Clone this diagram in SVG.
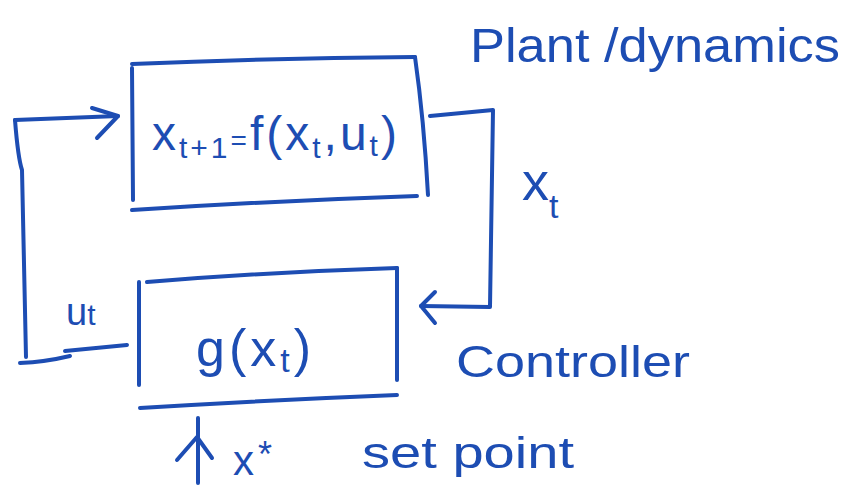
<svg xmlns="http://www.w3.org/2000/svg" width="845" height="487" viewBox="0 0 845 487">
<style>
.s{fill:none;stroke:#1d4db3;stroke-width:4;stroke-linecap:round;stroke-linejoin:round}
.t{fill:#1d4db3;font-family:"Liberation Sans","DejaVu Sans",sans-serif}
.m{fill:#1d4db3;font-family:"Liberation Sans","DejaVu Sans",sans-serif}
</style>
<rect width="845" height="487" fill="#ffffff"/>
<g id="plant">
<path class="s" d="M132,64 Q270,58 415,57"/>
<path class="s" d="M132,68 L133,200"/>
<path class="s" d="M415,57 Q424,120 428,195"/>
<path class="s" d="M132,210 Q270,201 417,196"/>
<text class="m" x="152" y="150" font-size="48" letter-spacing="3">x<tspan font-size="30" dy="8">t+1</tspan><tspan dy="-8" font-size="28">=</tspan><tspan>f(x</tspan><tspan font-size="30" dy="8">t</tspan><tspan dy="-8">,u</tspan><tspan font-size="30" dy="6">t</tspan><tspan dy="-6">)</tspan></text>
</g>
<g id="controller">
<path class="s" d="M147,282 Q270,272 397,268"/>
<path class="s" d="M139,282 L139,385"/>
<path class="s" d="M397,268 L397,380"/>
<path class="s" d="M140,408 Q270,400 397,395"/>
<text class="m" x="196" y="366" font-size="52" letter-spacing="4">g(x<tspan font-size="34" dy="6">t</tspan><tspan dy="-6">)</tspan></text>
</g>
<g id="connectors">
<path class="s" d="M15,120 Q18,158 22,170 L26,357"/>
<path class="s" d="M20,363 Q45,362 70,356"/>
<path class="s" d="M65,351 L127,345"/>
<path class="s" d="M15,120 L118,116"/>
<path class="s" d="M92,108 L118,116 L97,138"/>
<path class="s" d="M430,116 L493,110 L490,307 L421,306"/>
<path class="s" d="M435,292 L421,306 L435,323"/>
<path class="s" d="M198,418 L198,483"/>
<path class="s" d="M177,460 L197,437 L212,458"/>
</g>
<g id="labels">
<text class="t" x="470" y="62" font-size="48" textLength="370" lengthAdjust="spacingAndGlyphs">Plant /dynamics</text>
<text class="m" x="522" y="200" font-size="54">x<tspan font-size="34" dy="18">t</tspan></text>
<text class="t" x="456" y="377" font-size="44" textLength="234" lengthAdjust="spacingAndGlyphs">Controller</text>
<text class="m" x="66" y="325" font-size="38">u<tspan font-size="30">t</tspan></text>
<text class="m" x="233" y="475" font-size="42">x<tspan font-size="36" dy="-8" dx="4">*</tspan></text>
<text class="t" x="362" y="468" font-size="44" textLength="212" lengthAdjust="spacingAndGlyphs">set point</text>
</g>
</svg>
